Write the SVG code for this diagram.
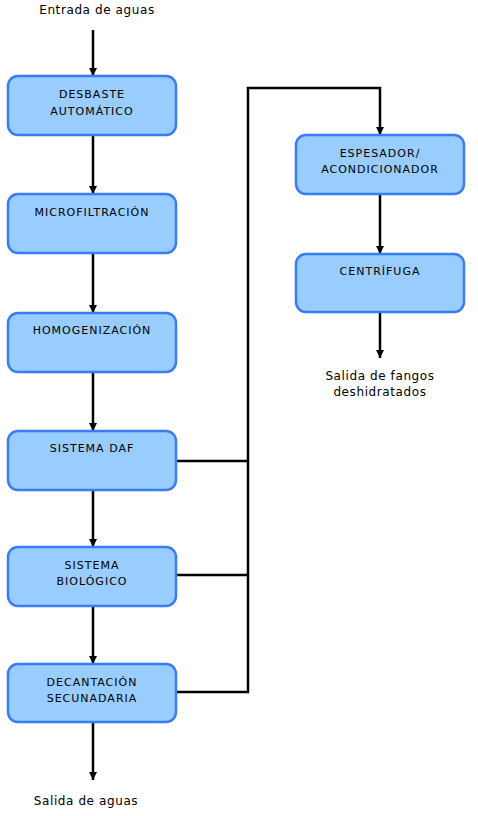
<svg xmlns="http://www.w3.org/2000/svg" width="478" height="816" viewBox="0 0 478 816">
<style>
.box{fill:#99ccff;stroke:#3b7cf4;stroke-width:2.5}
.bt{font-family:"DejaVu Sans",Verdana,sans-serif;font-size:11px;letter-spacing:1px;fill:#000;text-anchor:middle}
.lt{font-family:"DejaVu Sans",Verdana,sans-serif;font-size:12px;letter-spacing:0.6px;fill:#000;text-anchor:middle}
.c{fill:none;stroke:#000;stroke-width:2.5}
</style>
<defs>
<marker id="ah" viewBox="0 0 8 8" refX="8" refY="4" markerWidth="8" markerHeight="8" markerUnits="userSpaceOnUse" orient="auto">
<path d="M0,0 L8,4 L0,8 Z" fill="#000"/>
</marker>
</defs>
<rect width="478" height="816" fill="#fff"/>
<g id="connectors">
<line class="c" x1="93" y1="30" x2="93" y2="76" marker-end="url(#ah)"/>
<line class="c" x1="93" y1="135" x2="93" y2="194" marker-end="url(#ah)"/>
<line class="c" x1="93" y1="253" x2="93" y2="313" marker-end="url(#ah)"/>
<line class="c" x1="93" y1="372" x2="93" y2="431" marker-end="url(#ah)"/>
<line class="c" x1="93" y1="490" x2="93" y2="547" marker-end="url(#ah)"/>
<line class="c" x1="93" y1="606" x2="93" y2="664" marker-end="url(#ah)"/>
<line class="c" x1="93" y1="722" x2="93" y2="780" marker-end="url(#ah)"/>
<line class="c" x1="176" y1="461" x2="248" y2="461"/>
<line class="c" x1="176" y1="575" x2="248" y2="575"/>
<polyline class="c" points="176,692 248,692 248,88 380,88 380,135" marker-end="url(#ah)"/>
<line class="c" x1="380" y1="194" x2="380" y2="254" marker-end="url(#ah)"/>
<line class="c" x1="380" y1="312" x2="380" y2="358" marker-end="url(#ah)"/>
</g>
<g id="in"><text class="lt" x="97" y="14">Entrada de aguas</text></g>
<g id="desbaste"><rect class="box" x="8" y="76" width="168" height="59" rx="10"/><text class="bt" x="92" y="98">DESBASTE</text><text class="bt" x="92" y="115">AUTOMÁTICO</text></g>
<g id="microfiltracion"><rect class="box" x="8" y="194" width="168" height="59" rx="10"/><text class="bt" x="92" y="216">MICROFILTRACIÓN</text></g>
<g id="homogenizacion"><rect class="box" x="8" y="313" width="168" height="59" rx="10"/><text class="bt" x="92" y="334">HOMOGENIZACIÓN</text></g>
<g id="daf"><rect class="box" x="8" y="431" width="168" height="59" rx="10"/><text class="bt" x="92" y="452">SISTEMA DAF</text></g>
<g id="biologico"><rect class="box" x="8" y="547" width="168" height="59" rx="10"/><text class="bt" x="92" y="569">SISTEMA</text><text class="bt" x="92" y="585">BIOLÓGICO</text></g>
<g id="decantacion"><rect class="box" x="8" y="664" width="168" height="58" rx="10"/><text class="bt" x="92" y="686">DECANTACIÓN</text><text class="bt" x="92" y="702">SECUNADARIA</text></g>
<g id="espesador"><rect class="box" x="296" y="135" width="168" height="59" rx="10"/><text class="bt" x="380" y="157">ESPESADOR/</text><text class="bt" x="380" y="173">ACONDICIONADOR</text></g>
<g id="centrifuga"><rect class="box" x="296" y="254" width="168" height="58" rx="10"/><text class="bt" x="380" y="275">CENTRÍFUGA</text></g>
<g id="out-fangos"><text class="lt" x="380" y="380">Salida de fangos</text><text class="lt" x="380" y="396">deshidratados</text></g>
<g id="out-aguas"><text class="lt" x="86" y="805">Salida de aguas</text></g>
</svg>
